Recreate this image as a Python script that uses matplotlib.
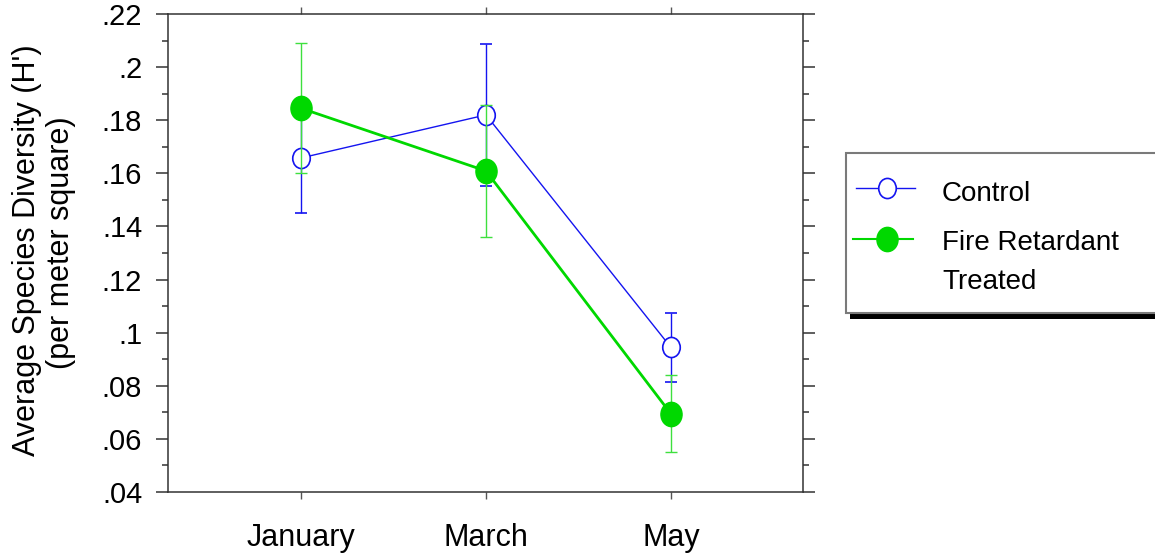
import matplotlib
matplotlib.use("Agg")
import matplotlib.pyplot as plt
from matplotlib.lines import Line2D
from matplotlib.patches import Rectangle
from matplotlib.path import Path
from matplotlib.transforms import Affine2D
from matplotlib.ticker import MultipleLocator, FixedLocator, FixedFormatter

plt.rcParams["font.family"] = ["Liberation Sans", "DejaVu Sans"]

# ---- data ----
months = ["January", "March", "May"]
control_mean = [0.1658, 0.1820, 0.0945]
control_err = [0.0207, 0.0268, 0.0130]
treated_mean = [0.1845, 0.1609, 0.0695]
treated_err = [0.0244, 0.0250, 0.0144]
series_names = ["Control", "Fire Retardant\nTreated"]
ytick_values = [0.04, 0.06, 0.08, 0.10, 0.12, 0.14, 0.16, 0.18, 0.20, 0.22]
ytick_labels = [".04", ".06", ".08", ".1", ".12", ".14", ".16", ".18", ".2", ".22"]

BLUE = "#1414F0"
GREEN = "#00D800"

W, H = 1155, 554
fig = plt.figure(figsize=(W / 100, H / 100), dpi=100)
ax = fig.add_axes([168 / W, 1 - 492 / H, (803 - 168) / W, (492 - 14) / H])

# slightly tall ellipse used as the point marker
ellipse = Path.unit_circle().transformed(Affine2D().scale(1.0, 1.15))

x = list(range(len(months)))

ax.errorbar(x, control_mean, yerr=control_err, color=BLUE, lw=1.0,
            elinewidth=1.0, capsize=4.5, capthick=1.0,
            marker=ellipse, ms=14.5, mfc="white", mec=BLUE, mew=1.2, zorder=3)
ax.errorbar(x, treated_mean, yerr=treated_err, color=GREEN, lw=2.0,
            ecolor="#3EE03E", elinewidth=1.0, capsize=4.5, capthick=1.0,
            marker=ellipse, ms=17.5, mfc=GREEN, mec=GREEN, mew=1.0, zorder=4)

ax.set_xlim(-0.72, 2.715)
ax.set_ylim(0.04, 0.22)

ax.xaxis.set_major_locator(FixedLocator(x))
ax.xaxis.set_major_formatter(FixedFormatter(months))
ax.yaxis.set_major_locator(FixedLocator(ytick_values))
ax.yaxis.set_major_formatter(FixedFormatter(ytick_labels))
ax.yaxis.set_minor_locator(MultipleLocator(0.01))

for s in ax.spines.values():
    s.set_color("#333333")
    s.set_linewidth(1.1)

ax.tick_params(axis="y", which="major", direction="out", length=8.6, width=1.1,
               color="#333333", left=True, right=True, labelsize=21, pad=10)
ax.tick_params(axis="y", which="minor", direction="out", length=4.3, width=1.1,
               color="#333333", left=True, right=True)
ax.tick_params(axis="x", which="major", direction="out", length=5, width=1.0,
               color="#555555", top=True, bottom=True, labelsize=22, pad=17)

# y axis title, two centred lines
fig.text(27 / W, 1 - 250 / H, "Average Species Diversity (H')", rotation=90,
         ha="center", va="center", fontsize=22)
fig.text(61 / W, 1 - 243 / H, "(per meter square)", rotation=90,
         ha="center", va="center", fontsize=22)

# ---- legend box with drop shadow ----
def fx(px):
    return px / W

def fy(py):
    return 1 - py / H

fig.add_artist(Rectangle((fx(850), fy(319)), fx(1160) - fx(850), fy(313) - fy(319),
                         transform=fig.transFigure, facecolor="black",
                         edgecolor="none", zorder=1))
fig.add_artist(Rectangle((fx(845.5), fy(313)), fx(1170) - fx(845.5), fy(153.5) - fy(313),
                         transform=fig.transFigure, facecolor="white",
                         edgecolor="#7a7a7a", lw=1.5, zorder=2))

fig.add_artist(Line2D([fx(856), fx(887), fx(915)], [fy(188)] * 3,
                      transform=fig.transFigure, color=BLUE, lw=1.0,
                      marker=ellipse, markevery=[1], ms=14.5, mfc="white",
                      mec=BLUE, mew=1.2, zorder=3))
fig.add_artist(Line2D([fx(853), fx(887), fx(913)], [fy(239)] * 3,
                      transform=fig.transFigure, color=GREEN, lw=1.5,
                      marker=ellipse, markevery=[1], ms=17.5, mfc=GREEN,
                      mec=GREEN, zorder=3))

fig.text(fx(942), fy(201), series_names[0], fontsize=20, va="baseline",
         ha="left", zorder=4)
fig.text(fx(942), fy(250), series_names[1].split("\n")[0], fontsize=20,
         va="baseline", ha="left", zorder=4)
fig.text(fx(942), fy(289), series_names[1].split("\n")[1], fontsize=20,
         va="baseline", ha="left", zorder=4)

fig.savefig("out.png", dpi=100)
